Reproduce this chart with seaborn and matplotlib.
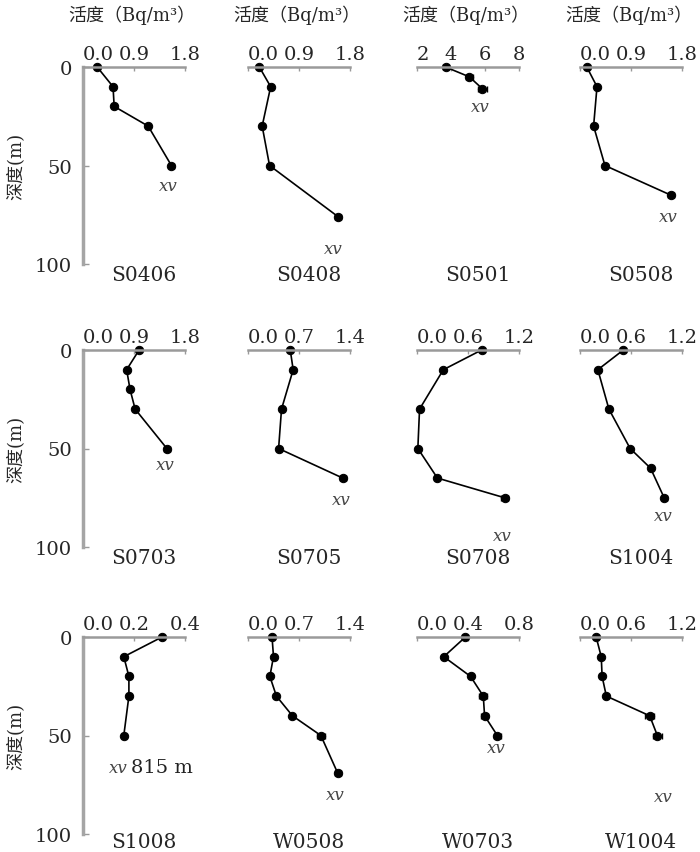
import numpy as np
import matplotlib
matplotlib.use('Agg')
import matplotlib.pyplot as plt
import seaborn as sns

sns.set_style('white')
plt.rcParams['font.family'] = ['DejaVu Serif', 'Noto Sans CJK SC']

# station names, row by row
stations = ['S0406', 'S0408', 'S0501', 'S0508',
            'S0703', 'S0705', 'S0708', 'S1004',
            'S1008', 'W0508', 'W0703', 'W1004']

# activity (Bq/m3) and depth (m) per station
activity = [
    [0.25, 0.53, 0.55, 1.15, 1.56],
    [0.20, 0.40, 0.25, 0.38, 1.59],
    [3.68, 5.08, 5.84],
    [0.12, 0.30, 0.24, 0.44, 1.60],
    [0.99, 0.77, 0.83, 0.92, 1.48],
    [0.58, 0.62, 0.46, 0.42, 1.30],
    [0.76, 0.31, 0.03, 0.01, 0.24, 1.03],
    [0.51, 0.21, 0.34, 0.59, 0.83, 0.99],
    [0.31, 0.16, 0.18, 0.18, 0.16],
    [0.33, 0.35, 0.30, 0.39, 0.61, 1.00, 1.23],
    [0.38, 0.21, 0.42, 0.52, 0.53, 0.63],
    [0.19, 0.25, 0.26, 0.31, 0.82, 0.91],
]
depth = [
    [0, 10, 20, 30, 50],
    [0, 10, 30, 50, 76],
    [0, 5, 11],
    [0, 10, 30, 50, 65],
    [0, 10, 20, 30, 50],
    [0, 10, 30, 50, 65],
    [0, 10, 30, 50, 65, 75],
    [0, 10, 30, 50, 60, 75],
    [0, 10, 20, 30, 50],
    [0, 10, 20, 30, 40, 50, 69],
    [0, 10, 20, 30, 40, 50],
    [0, 10, 20, 30, 40, 50],
]
# horizontal error bars (0 = none drawn)
errors = [
    [0, 0, 0, 0, 0.05],
    [0, 0, 0, 0, 0.05],
    [0.15, 0.2, 0.25],
    [0, 0, 0, 0, 0.05],
    [0, 0, 0, 0, 0.05],
    [0, 0, 0, 0, 0.04],
    [0, 0, 0, 0, 0, 0.04],
    [0, 0, 0, 0, 0, 0.03],
    [0, 0, 0, 0, 0],
    [0, 0, 0, 0, 0, 0.05, 0.04],
    [0, 0, 0, 0.03, 0.03, 0.03],
    [0, 0, 0, 0, 0.05, 0.05],
]
# top axis ticks per station
xticks = [
    [0.0, 0.9, 1.8], [0.0, 0.9, 1.8], [2, 4, 6, 8], [0.0, 0.9, 1.8],
    [0.0, 0.9, 1.8], [0.0, 0.7, 1.4], [0.0, 0.6, 1.2], [0.0, 0.6, 1.2],
    [0.0, 0.2, 0.4], [0.0, 0.7, 1.4], [0.0, 0.4, 0.8], [0.0, 0.6, 1.2],
]
# seabed marker position (activity, depth); S1008 also notes the bottom depth
seabed_x = [1.5, 1.5, 5.7, 1.55, 1.45, 1.28, 1.0, 0.98, 0.1, 1.2, 0.62, 0.98]
seabed_d = [60, 92, 20, 76, 58, 76, 94, 84, 66, 80, 56, 81]
seabed_note = {8: '815 m'}

title = '活度（Bq/m³）'
ylabel = '深度(m)'

W, H = 700, 853
col_left = [83, 248, 417, 580]
col_w = 102
row_top = [68, 351, 638]
row_h = 197

fig = plt.figure(figsize=(W / 100, H / 100), dpi=100)
grey = '#9a9a9a'

for i, name in enumerate(stations):
    r, c = divmod(i, 4)
    ax = fig.add_axes([col_left[c] / W, 1 - (row_top[r] + row_h) / H,
                       col_w / W, row_h / H])
    sns.lineplot(x=activity[i], y=depth[i], sort=False, estimator=None,
                 color='black', lw=1.2, marker='o', markersize=6,
                 markeredgecolor='black', clip_on=False, ax=ax)
    err = np.array(errors[i])
    if err.any():
        ax.errorbar(activity[i], depth[i], xerr=err, fmt='none',
                    ecolor='black', elinewidth=1, capsize=2.5, clip_on=False)

    ax.set_xlim(xticks[i][0], xticks[i][-1])
    ax.set_ylim(100, 0)
    ax.xaxis.tick_top()
    ax.set_xticks(xticks[i])
    labs = ax.set_xticklabels([f'{t:.1f}' if isinstance(t, float) else str(t)
                               for t in xticks[i]])
    labs[0].set_ha('left')
    ax.tick_params(axis='x', top=True, bottom=False, direction='in',
                   length=3, width=1, color=grey, labelsize=14, pad=3)
    for s in ['right', 'bottom']:
        ax.spines[s].set_visible(False)
    ax.spines['top'].set_color(grey)
    ax.spines['top'].set_linewidth(1.8)
    if c == 0:
        ax.spines['left'].set_color('#a5a5a5')
        ax.spines['left'].set_linewidth(2.5)
        ax.set_yticks([0, 50, 100])
        ax.tick_params(axis='y', left=True, direction='in', length=4,
                       width=1, color=grey, labelsize=14, pad=8)
        fig.text(15 / W, 1 - (row_top[r] + 98) / H, ylabel, rotation=90,
                 ha='center', va='center', fontsize=13)
    else:
        ax.spines['left'].set_visible(False)
        ax.set_yticks([])
    ax.set_xlabel('')
    ax.set_ylabel('')
    ax.grid(False)

    if i in seabed_note:
        ax.text(seabed_x[i], seabed_d[i], 'xv', ha='left', va='center',
                fontsize=12, style='italic', color='#444444', clip_on=False)
        ax.text(seabed_x[i] + 0.09, seabed_d[i], seabed_note[i], ha='left',
                va='center', fontsize=14, color='#222222', clip_on=False)
    else:
        ax.text(seabed_x[i], seabed_d[i], 'xv', ha='center', va='center',
                fontsize=12, style='italic', color='#444444', clip_on=False)
    ylab = -0.04 if r == 2 else -0.055
    ax.text(0.6, ylab, name, transform=ax.transAxes, ha='center', va='center',
            fontsize=14.5)
    if r == 0:
        ax.text(0.48, 1.27, title, transform=ax.transAxes, ha='center',
                va='center', fontsize=13)

fig.savefig('out.png', dpi=100)
